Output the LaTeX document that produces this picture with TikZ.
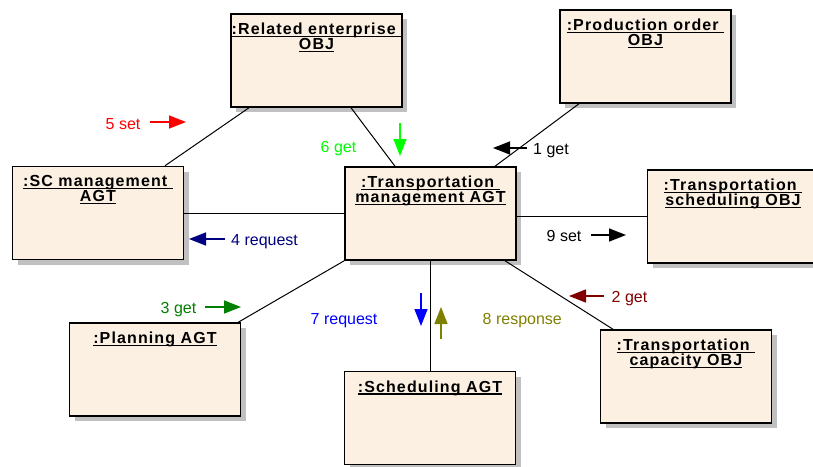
\documentclass[tikz,border=0pt]{standalone}
\usepackage{fontspec}
\setmainfont{Liberation Sans}
\newfontfamily\ttlfont[LetterSpace=7]{Liberation Sans}
\usetikzlibrary{arrows.meta,shadows}

\definecolor{boxfill}{RGB}{251,240,226}
\definecolor{shadowgray}{RGB}{192,192,192}
\definecolor{msgred}{RGB}{255,0,0}
\definecolor{msglime}{RGB}{0,255,0}
\definecolor{msgnavy}{RGB}{0,0,128}
\definecolor{msggreen}{RGB}{0,128,0}
\definecolor{msgblue}{RGB}{0,0,255}
\definecolor{msgolive}{RGB}{128,128,0}
\definecolor{msgmaroon}{RGB}{128,0,0}

% underline that covers the whole box of its argument
\newsavebox\ulbox
\newcommand\ulx[1]{\sbox\ulbox{#1}\rlap{\usebox\ulbox}\rule[-2.6pt]{\wd\ulbox}{1.3pt}}

\begin{document}
\begin{tikzpicture}[x=1pt,y=-1pt,
  objbox/.style={draw=black, line width=1.5pt, fill=boxfill,
    minimum width=171pt, minimum height=93pt, inner sep=0pt,
    drop shadow={shadow xshift=5pt, shadow yshift=-5pt, fill=shadowgray, opacity=1}},
  objtitle/.style={anchor=north, inner sep=0pt, align=center,
    font=\ttlfont\bfseries\fontsize{16}{15}\selectfont},
  link/.style={draw=black, line width=1pt},
  msg/.style={line width=1.5pt, -{Triangle[length=17pt,width=13pt]}},
  lbl/.style={anchor=base west, inner sep=0pt, font=\fontsize{16}{18}\selectfont}]

\useasboundingbox (0,0) rectangle (813,466);
\fill[white] (0,0) rectangle (813,466);

% object boxes
\node[objbox] (rel)   at (316.5,60.5)  {};
\node[objbox] (prod)  at (645.5,56.5)  {};
\node[objbox] (sc)    at (98,213)      {};
\node[objbox] (tm)    at (430.5,213.5) {};
\node[objbox] (ts)    at (733,216.5)   {};
\node[objbox] (plan)  at (155,369.5)   {};
\node[objbox] (sched) at (430,418)     {};
\node[objbox] (cap)   at (686,376.5)   {};

% box titles
\node[objtitle] (relT)   at ([yshift=-9.5pt]rel.north)   {\ulx{:Related enterprise\ }\\\ulx{OBJ}};
\node[objtitle] (prodT)  at ([yshift=-9.5pt]prod.north)  {\ulx{:Production order\ }\\\ulx{OBJ}};
\node[objtitle] (scT)    at ([yshift=-9.5pt]sc.north)    {\ulx{:SC\ management\ }\\\ulx{AGT}};
\node[objtitle] (tmT)    at ([yshift=-9.5pt]tm.north)    {\ulx{:Transportation\ }\\\ulx{management\ AGT}};
\node[objtitle] (tsT)    at ([yshift=-9.5pt]ts.north)    {\ulx{:Transportation\ }\\\ulx{scheduling OBJ}};
\node[objtitle] (planT)  at ([yshift=-9.5pt]plan.north)  {\ulx{:Planning AGT}};
\node[objtitle] (schedT) at ([yshift=-9.5pt]sched.north) {\ulx{:Scheduling AGT}};
\node[objtitle] (capT)   at ([yshift=-9.5pt]cap.north)   {\ulx{:Transportation\ }\\\ulx{capacity OBJ}};

% links between objects
\draw[link] ([xshift=67pt]sc.north) -- ([xshift=-67.5pt]rel.south);
\draw[link] ([xshift=34.5pt]rel.south) -- ([xshift=-35.5pt]tm.north);
\draw[link] ([xshift=-66.5pt]prod.south) -- ([xshift=64.5pt]tm.north);
\draw[link] (sc.east) -- (sc.east -| tm.west);
\draw[link] (ts.west -| tm.east) -- (ts.west);
\draw[link] (tm.south west) -- ([xshift=-3pt]plan.north east);
\draw[link] (tm.south) -- (tm.south |- sched.north);
\draw[link] ([xshift=74.5pt]tm.south) -- ([xshift=-73pt]cap.north);

% messages
\draw[msg, msgred]    (150,122) -- (186,122);
\node[lbl, msgred]    (m5) at (105.5,129) {5 set};
\draw[msg, msglime]   (400,123) -- (400,156);
\node[lbl, msglime]   (m6) at (320.5,152.5) {6 get};
\draw[msg, msgnavy]   (225,239) -- (189,239);
\node[lbl, msgnavy]   (m4) at (231,245.5) {4 request};
\draw[msg, black]     (527,148) -- (493,148);
\node[lbl, black]     (m1) at (533,154.5) {1 get};
\draw[msg, black]     (591,235) -- (626,235);
\node[lbl, black]     (m9) at (546.5,241) {9 set};
\draw[msg, msggreen]  (205,307) -- (241,307);
\node[lbl, msggreen]  (m3) at (160.5,313) {3 get};
\draw[msg, msgblue]   (421,293) -- (421,326);
\node[lbl, msgblue]   (m7) at (310.5,324) {7 request};
\draw[msg, msgolive]  (441,339) -- (441,307);
\node[lbl, msgolive]  (m8) at (482.5,324) {8 response};
\draw[msg, msgmaroon] (604,296) -- (569,296);
\node[lbl, msgmaroon] (m2) at (611.5,302) {2 get};
\end{tikzpicture}
\end{document}
